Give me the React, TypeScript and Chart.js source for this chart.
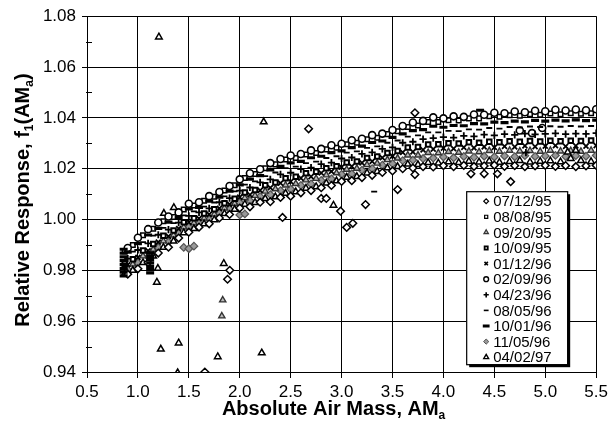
import React, { useEffect, useRef } from "react";
import { Chart, registerables } from "chart.js";
import { drawPoint } from "chart.js/helpers";

Chart.register(...registerables);

// ---------- data ----------
const LABELS = ["07/12/95", "08/08/95", "09/20/95", "10/09/95", "01/12/96", "02/09/96", "04/23/96", "08/05/96", "10/01/96", "11/05/96", "04/02/97"];

const X_TICKS = [0.5, 1.0, 1.5, 2.0, 2.5, 3.0, 3.5, 4.0, 4.5, 5.0, 5.5];
const Y_TICKS = [0.94, 0.96, 0.98, 1.0, 1.02, 1.04, 1.06, 1.08];
const Y_MINOR = [0.95, 0.97, 0.99, 1.01, 1.03, 1.05, 1.07];

// air-mass grids (two interleaved sampling grids)
const AM_A = [0.87, 0.95, 1.05, 1.15, 1.25, 1.35, 1.45, 1.55, 1.65, 1.75, 1.85, 1.95, 2.05, 2.15, 2.25, 2.35, 2.45, 2.55, 2.65, 2.75, 2.85, 2.95, 3.05, 3.15, 3.25, 3.35, 3.45, 3.55, 3.65, 3.75, 3.85, 3.95, 4.05, 4.15, 4.25, 4.35, 4.45, 4.55, 4.65, 4.75, 4.85, 4.95, 5.05, 5.15, 5.25, 5.35, 5.45];
const AM_B = [0.9, 1.0, 1.1, 1.2, 1.3, 1.4, 1.5, 1.6, 1.7, 1.8, 1.9, 2.0, 2.1, 2.2, 2.3, 2.4, 2.5, 2.6, 2.7, 2.8, 2.9, 3.0, 3.1, 3.2, 3.3, 3.4, 3.5, 3.6, 3.7, 3.8, 3.9, 4.0, 4.1, 4.2, 4.3, 4.4, 4.5, 4.6, 4.7, 4.8, 4.9, 5.0, 5.1, 5.2, 5.3, 5.4, 5.5];

// 07/12/95 (grid B)
const R_071295 = [0.9785, 0.9806, 0.9830, 0.9868, 0.9891, 0.9927, 0.9950, 0.9970, 0.9983, 1.0006, 1.0020, 1.0045, 1.0050, 1.0068, 1.0070, 1.0087, 1.0092, 1.0105, 1.0114, 1.0125, 1.0134, 1.0150, 1.0153, 1.0165, 1.0174, 1.0185, 1.0191, 1.0200, 1.0203, 1.0208, 1.0207, 1.0212, 1.0208, 1.0213, 1.0209, 1.0211, 1.0214, 1.0209, 1.0212, 1.0208, 1.0211, 1.0213, 1.0209, 1.0212, 1.0208, 1.0211, 1.0213];
const OUT_X_071295 = [2.676, 1.902, 1.88, 1.657, 2.42, 2.80, 2.85, 2.99, 3.05, 3.11, 3.235, 3.55, 3.72, 3.72, 4.27, 4.40, 4.53, 4.66];
const OUT_Y_071295 = [1.0357, 0.980, 0.9765, 0.940, 1.0008, 1.0083, 1.0083, 1.0033, 0.9969, 0.9985, 1.0059, 1.0118, 1.0177, 1.042, 1.018, 1.018, 1.018, 1.0149];

// 08/08/95 (grid A)
const R_080895 = [0.9875, 0.9900, 0.9938, 0.9964, 0.9993, 1.0010, 1.0039, 1.0055, 1.0074, 1.0090, 1.0114, 1.0135, 1.0163, 1.0179, 1.0202, 1.0217, 1.0236, 1.0242, 1.0256, 1.0262, 1.0276, 1.0282, 1.0296, 1.0302, 1.0316, 1.0322, 1.0336, 1.0347, 1.0364, 1.0370, 1.0384, 1.0384, 1.0391, 1.0390, 1.0398, 1.0398, 1.0406, 1.0404, 1.0410, 1.0408, 1.0414, 1.0412, 1.0417, 1.0414, 1.0418, 1.0416, 1.0418];

// 09/20/95 (grid A)
const R_092095 = [0.9808, 0.9824, 0.9856, 0.9882, 0.9915, 0.9938, 0.9970, 0.9986, 1.0005, 1.0021, 1.0045, 1.0063, 1.0085, 1.0094, 1.0111, 1.0120, 1.0135, 1.0141, 1.0155, 1.0161, 1.0175, 1.0183, 1.0197, 1.0201, 1.0215, 1.0221, 1.0235, 1.0241, 1.0253, 1.0253, 1.0263, 1.0262, 1.0267, 1.0264, 1.0269, 1.0266, 1.0271, 1.0268, 1.0272, 1.0269, 1.0271, 1.0268, 1.0272, 1.0269, 1.0271, 1.0268, 1.0272];
const OUT_X_092095 = [1.833, 1.824];
const OUT_Y_092095 = [0.9683, 0.962];

// 10/09/95 (grid A)
const R_100995 = [0.9826, 0.9844, 0.9878, 0.9904, 0.9936, 0.9957, 0.9989, 1.0005, 1.0024, 1.0040, 1.0064, 1.0082, 1.0106, 1.0116, 1.0135, 1.0146, 1.0162, 1.0168, 1.0182, 1.0188, 1.0202, 1.0210, 1.0224, 1.0228, 1.0242, 1.0248, 1.0262, 1.0270, 1.0283, 1.0285, 1.0295, 1.0296, 1.0300, 1.0299, 1.0304, 1.0302, 1.0306, 1.0304, 1.0308, 1.0306, 1.0309, 1.0307, 1.0310, 1.0308, 1.0310, 1.0309, 1.0311];

// 01/12/96 (grid B)
const R_011296 = [0.9822, 0.9851, 0.9877, 0.9911, 0.9934, 0.9964, 0.9990, 1.0004, 1.0020, 1.0044, 1.0060, 1.0088, 1.0097, 1.0115, 1.0125, 1.0143, 1.0149, 1.0163, 1.0169, 1.0183, 1.0189, 1.0206, 1.0209, 1.0223, 1.0229, 1.0243, 1.0249, 1.0264, 1.0266, 1.0274, 1.0277, 1.0281, 1.0279, 1.0284, 1.0282, 1.0286, 1.0284, 1.0288, 1.0286, 1.0290, 1.0287, 1.0289, 1.0291, 1.0288, 1.0290, 1.0289, 1.0291];

// 02/09/96 (grid B)
const R_020996 = [0.9888, 0.9928, 0.9962, 0.9988, 1.0012, 1.0028, 1.0062, 1.0068, 1.0092, 1.0108, 1.0132, 1.0158, 1.0182, 1.0198, 1.0222, 1.0238, 1.0252, 1.0258, 1.0272, 1.0278, 1.0292, 1.0298, 1.0312, 1.0318, 1.0332, 1.0338, 1.0352, 1.0368, 1.0382, 1.0388, 1.0402, 1.0398, 1.0406, 1.0404, 1.0413, 1.0412, 1.0420, 1.0418, 1.0425, 1.0422, 1.0428, 1.0426, 1.0432, 1.0429, 1.0433, 1.0430, 1.0434];
const OUT_X_020996 = [4.75, 4.87, 4.97];
const OUT_Y_020996 = [1.035, 1.034, 1.036];

// 04/23/96 (grid B)
const R_042396 = [0.9846, 0.9880, 0.9906, 0.9940, 0.9960, 0.9988, 1.0014, 1.0028, 1.0044, 1.0068, 1.0084, 1.0114, 1.0126, 1.0146, 1.0158, 1.0178, 1.0184, 1.0198, 1.0204, 1.0218, 1.0224, 1.0240, 1.0244, 1.0258, 1.0264, 1.0278, 1.0284, 1.0302, 1.0306, 1.0316, 1.0320, 1.0324, 1.0322, 1.0329, 1.0327, 1.0334, 1.0331, 1.0336, 1.0333, 1.0338, 1.0335, 1.0337, 1.0339, 1.0336, 1.0338, 1.0337, 1.0340];
const OUT_X_042396 = [4.81];
const OUT_Y_042396 = [1.0263];

// 08/05/96 (grid A)
const R_080596 = [0.9853, 0.9874, 0.9911, 0.9937, 0.9967, 0.9986, 1.0016, 1.0032, 1.0051, 1.0067, 1.0091, 1.0111, 1.0137, 1.0150, 1.0171, 1.0185, 1.0202, 1.0208, 1.0222, 1.0228, 1.0242, 1.0249, 1.0263, 1.0268, 1.0282, 1.0288, 1.0302, 1.0311, 1.0326, 1.0331, 1.0343, 1.0343, 1.0349, 1.0348, 1.0355, 1.0354, 1.0360, 1.0358, 1.0364, 1.0362, 1.0366, 1.0364, 1.0367, 1.0365, 1.0368, 1.0366, 1.0368];
const OUT_X_080596 = [3.32];
const OUT_Y_080596 = [1.011];

// 10/01/96 (grid B)
const R_100196 = [0.9872, 0.9905, 0.9939, 0.9965, 0.9990, 1.0008, 1.0042, 1.0048, 1.0072, 1.0088, 1.0112, 1.0136, 1.0159, 1.0173, 1.0195, 1.0209, 1.0223, 1.0229, 1.0243, 1.0249, 1.0263, 1.0270, 1.0283, 1.0289, 1.0303, 1.0309, 1.0323, 1.0337, 1.0350, 1.0354, 1.0367, 1.0363, 1.0370, 1.0369, 1.0377, 1.0376, 1.0383, 1.0381, 1.0387, 1.0384, 1.0390, 1.0387, 1.0391, 1.0388, 1.0392, 1.0389, 1.0391];
const OUT_X_100196 = [4.36, 1.12, 1.12, 1.12, 1.12, 1.12, 1.12, 1.12, 0.86, 0.86, 0.86, 0.86, 0.86, 0.86, 0.86, 0.86];
const OUT_Y_100196 = [1.043, 0.9790, 0.9803, 0.9816, 0.9829, 0.9842, 0.9855, 0.9868, 0.9778, 0.9793, 0.9808, 0.9823, 0.9838, 0.9853, 0.9868, 0.9883];

// 11/05/96 (grid B)
const R_110596 = [0.9802, 0.9829, 0.9853, 0.9889, 0.9911, 0.9945, 0.9970, 0.9985, 1.0000, 1.0025, 1.0040, 1.0066, 1.0074, 1.0090, 1.0098, 1.0114, 1.0120, 1.0134, 1.0140, 1.0154, 1.0160, 1.0178, 1.0180, 1.0194, 1.0200, 1.0214, 1.0220, 1.0232, 1.0234, 1.0240, 1.0242, 1.0246, 1.0243, 1.0248, 1.0245, 1.0249, 1.0246, 1.0250, 1.0247, 1.0251, 1.0248, 1.0250, 1.0252, 1.0248, 1.0251, 1.0249, 1.0252];
const OUT_X_110596 = [1.45, 1.5, 1.55, 2.0, 2.05];
const OUT_Y_110596 = [0.9890, 0.9885, 0.9895, 1.0018, 1.0022];

// 04/02/97 (grid A)
const R_040297 = [0.9786, 0.9800, 0.9830, 0.9856, 0.9890, 0.9915, 0.9948, 0.9964, 0.9983, 0.9999, 1.0023, 1.0040, 1.0060, 1.0067, 1.0082, 1.0089, 1.0103, 1.0109, 1.0123, 1.0129, 1.0143, 1.0152, 1.0166, 1.0169, 1.0183, 1.0189, 1.0203, 1.0208, 1.0218, 1.0216, 1.0224, 1.0222, 1.0227, 1.0224, 1.0229, 1.0226, 1.0230, 1.0225, 1.0228, 1.0232, 1.0226, 1.0229, 1.0231, 1.0227, 1.0240, 1.0232, 1.0228];
const OUT_X_040297 = [1.206, 2.235, 1.255, 1.353, 1.196, 1.186, 1.843, 1.225, 1.40, 1.784, 2.216, 1.39, 2.92, 5.22, 5.30];
const OUT_Y_040297 = [1.0718, 1.0384, 1.0024, 1.0047, 0.9808, 0.9753, 0.9827, 0.949, 0.9514, 0.946, 0.9475, 0.9397, 1.0056, 1.0265, 1.0272];

const X_TITLE = [{ t: "Absolute Air Mass, AM" }, { t: "a", sub: true }];
const Y_TITLE = [{ t: "Relative Response, f" }, { t: "1", sub: true }, { t: "(AM" }, { t: "a", sub: true }, { t: ")" }];

// ---------- helpers ----------
const pts = (xs: number[], ys: number[]) => xs.map((x, i) => ({ x, y: ys[i] }));

const SERIES = [
  { xs: AM_B, ys: R_071295, ox: OUT_X_071295, oy: OUT_Y_071295 },
  { xs: AM_A, ys: R_080895, ox: [], oy: [] },
  { xs: AM_A, ys: R_092095, ox: OUT_X_092095, oy: OUT_Y_092095 },
  { xs: AM_A, ys: R_100995, ox: [], oy: [] },
  { xs: AM_B, ys: R_011296, ox: [], oy: [] },
  { xs: AM_B, ys: R_020996, ox: OUT_X_020996, oy: OUT_Y_020996 },
  { xs: AM_B, ys: R_042396, ox: OUT_X_042396, oy: OUT_Y_042396 },
  { xs: AM_A, ys: R_080596, ox: OUT_X_080596, oy: OUT_Y_080596 },
  { xs: AM_B, ys: R_100196, ox: OUT_X_100196, oy: OUT_Y_100196 },
  { xs: AM_B, ys: R_110596, ox: OUT_X_110596, oy: OUT_Y_110596 },
  { xs: AM_A, ys: R_040297, ox: OUT_X_040297, oy: OUT_Y_040297 },
];

const STYLES: any[] = [
  { pointStyle: "rectRot", radius: 3.8, borderWidth: 1.5, borderColor: "#000", backgroundColor: "#fff", order: 5 },
  { pointStyle: "rect", radius: 3.2, borderWidth: 1.5, borderColor: "#000", backgroundColor: "#fff", order: 4 },
  { pointStyle: "triangle", radius: 3.6, borderWidth: 1.4, borderColor: "#333", backgroundColor: "#bbb", order: 9 },
  { pointStyle: "rect", radius: 3.2, borderWidth: 2, borderColor: "#000", backgroundColor: "#fff", order: 6 },
  { pointStyle: "crossRot", radius: 3.5, borderWidth: 1.8, borderColor: "#000", backgroundColor: "#000", order: 7 },
  { pointStyle: "circle", radius: 3.5, borderWidth: 1.6, borderColor: "#000", backgroundColor: "#fff", order: 3 },
  { pointStyle: "cross", radius: 3.6, borderWidth: 1.8, borderColor: "#000", backgroundColor: "#000", order: 2 },
  { pointStyle: "line", radius: 3, borderWidth: 1.8, borderColor: "#000", backgroundColor: "#000", order: 2 },
  { pointStyle: "line", radius: 4, borderWidth: 3.2, borderColor: "#000", backgroundColor: "#000", order: 1 },
  { pointStyle: "rectRot", radius: 3.8, borderWidth: 1.2, borderColor: "#555", backgroundColor: "#999", order: 10 },
  { pointStyle: "triangle", radius: 3.8, borderWidth: 1.5, borderColor: "#000", backgroundColor: "#fff", order: 8 },
];

const LEGEND_SYMBOL: any[] = [
  { radius: 2.4, borderWidth: 1.2 },
  { radius: 2.2, borderWidth: 1.2 },
  { radius: 2.6, borderWidth: 1.2 },
  { radius: 2.2, borderWidth: 1.8 },
  { radius: 2.4, borderWidth: 1.6 },
  { radius: 2.4, borderWidth: 1.4 },
  { radius: 2.6, borderWidth: 1.6 },
  { radius: 2.4, borderWidth: 1.6 },
  { radius: 3.4, borderWidth: 3 },
  { radius: 2.6, borderWidth: 1 },
  { radius: 2.8, borderWidth: 1.4 },
];

const FONT_FAMILY = "'Liberation Sans', Arial, Helvetica, sans-serif";

function drawRich(ctx: CanvasRenderingContext2D, parts: any[], size: number, cx: number, cy: number) {
  const big = `bold ${size}px ${FONT_FAMILY}`;
  const small = `bold ${Math.round(size * 0.6)}px ${FONT_FAMILY}`;
  let total = 0;
  const widths = parts.map((p) => {
    ctx.font = p.sub ? small : big;
    const w = ctx.measureText(p.t).width;
    total += w;
    return w;
  });
  let x = cx - total / 2;
  ctx.textBaseline = "alphabetic";
  ctx.textAlign = "left";
  parts.forEach((p, i) => {
    ctx.font = p.sub ? small : big;
    ctx.fillText(p.t, x, cy + (p.sub ? size * 0.2 : 0));
    x += widths[i];
  });
}

const decorPlugin = {
  id: "decor",
  afterDraw(chart: any) {
    const { ctx, chartArea } = chart;
    const ys = chart.scales.y;
    ctx.save();
    // minor y ticks
    ctx.strokeStyle = "#000";
    ctx.lineWidth = 1;
    Y_MINOR.forEach((v) => {
      const py = Math.round(ys.getPixelForValue(v)) + 0.5;
      ctx.beginPath();
      ctx.moveTo(chartArea.left - 1, py);
      ctx.lineTo(chartArea.left + 5, py);
      ctx.stroke();
    });
    // axis titles
    ctx.fillStyle = "#000";
    drawRich(ctx, X_TITLE, 20, chartArea.left + (chartArea.right - chartArea.left) / 2 - 8, chartArea.bottom + 43);
    ctx.save();
    ctx.translate(29, (chartArea.top + chartArea.bottom) / 2 + 6);
    ctx.rotate(-Math.PI / 2);
    drawRich(ctx, Y_TITLE, 20, 0, 0);
    ctx.restore();

    // legend box
    const lx = chartArea.right - 130;
    const ly = chartArea.top + 175;
    const lw = 101;
    const lh = 173;
    ctx.fillStyle = "#000";
    ctx.fillRect(lx + 3, ly + 3, lw, lh);
    ctx.fillStyle = "#fff";
    ctx.fillRect(lx, ly, lw, lh);
    ctx.strokeStyle = "#000";
    ctx.lineWidth = 1.2;
    ctx.strokeRect(lx + 0.5, ly + 0.5, lw, lh);
    ctx.font = `15px ${FONT_FAMILY}`;
    ctx.textBaseline = "middle";
    ctx.textAlign = "left";
    LABELS.forEach((lab, i) => {
      const cy = ly + 10 + i * 15.6;
      const st = STYLES[i];
      const ls = LEGEND_SYMBOL[i];
      ctx.strokeStyle = st.borderColor;
      ctx.fillStyle = st.backgroundColor;
      ctx.lineWidth = ls.borderWidth;
      drawPoint(ctx, { pointStyle: st.pointStyle, radius: ls.radius, rotation: 0, borderWidth: ls.borderWidth }, lx + 20, cy);
      ctx.fillStyle = "#000";
      ctx.fillText(lab, lx + 27, cy + 1);
    });
    ctx.restore();
  },
};

export default function App() {
  const ref = useRef<HTMLCanvasElement | null>(null);
  useEffect(() => {
    if (!ref.current) return;
    const datasets = SERIES.map((s, i) => {
      const st = STYLES[i];
      return {
        label: LABELS[i],
        data: [...pts(s.xs, s.ys), ...pts(s.ox, s.oy)],
        showLine: false,
        pointStyle: st.pointStyle,
        pointRadius: st.radius,
        pointBorderWidth: st.borderWidth,
        pointBorderColor: st.borderColor,
        pointBackgroundColor: st.backgroundColor,
        borderColor: st.borderColor,
        backgroundColor: st.backgroundColor,
        order: st.order,
      };
    });
    const font = { family: FONT_FAMILY, size: 17 };
    const chart = new Chart(ref.current, {
      type: "scatter",
      data: { datasets },
      options: {
        responsive: false,
        animation: false,
        devicePixelRatio: 1,
        events: [],
        layout: { padding: { left: 0, right: 14, top: 15, bottom: 0 } },
        plugins: { legend: { display: false }, tooltip: { enabled: false } },
        scales: {
          x: {
            type: "linear",
            min: 0.5,
            max: 5.5,
            afterBuildTicks: (s: any) => {
              s.ticks = X_TICKS.map((v) => ({ value: v }));
            },
            afterFit: (s: any) => {
              s.height = 59;
            },
            ticks: { callback: (v: any) => Number(v).toFixed(1), font, color: "#000", padding: 4, maxRotation: 0, autoSkip: false },
            grid: { color: "#000", lineWidth: 1, tickLength: 6, tickColor: "#000" },
            border: { color: "#000", width: 1 },
          },
          y: {
            type: "linear",
            min: 0.94,
            max: 1.08,
            afterBuildTicks: (s: any) => {
              s.ticks = Y_TICKS.map((v) => ({ value: v }));
            },
            afterFit: (s: any) => {
              s.width = 87;
            },
            ticks: { callback: (v: any) => Number(v).toFixed(2), font, color: "#000", padding: 6, autoSkip: false },
            grid: { color: "#000", lineWidth: 1, tickLength: 5, tickColor: "#000" },
            border: { color: "#000", width: 1 },
          },
        },
      },
      plugins: [decorPlugin],
    } as any);
    return () => chart.destroy();
  }, []);
  return (
    <div style={{ position: "absolute", left: 0, top: 0, width: 612, height: 431, background: "#fff" }}>
      <canvas ref={ref} width={612} height={431} style={{ width: 612, height: 431 }} />
    </div>
  );
}
